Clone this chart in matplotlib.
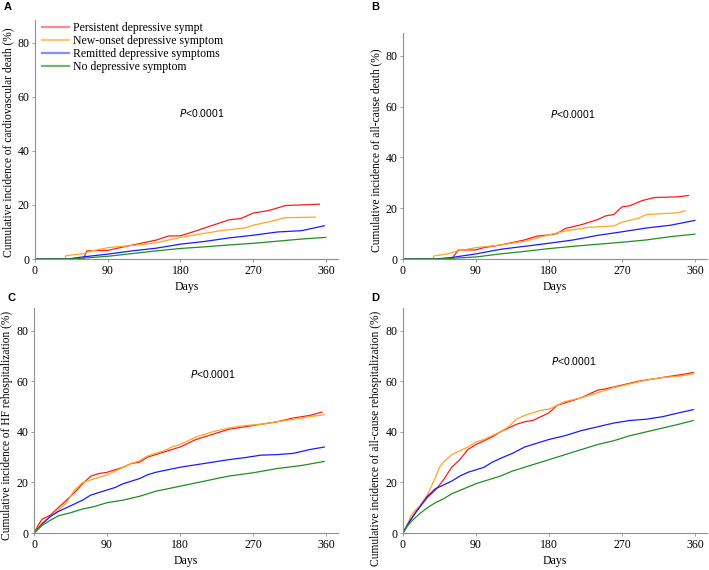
import matplotlib
matplotlib.use('Agg')
import matplotlib.pyplot as plt
from matplotlib.lines import Line2D

plt.rcParams['font.family'] = 'Liberation Serif'

groups = ['Persistent depressive sympt', 'New-onset depressive symptom',
          'Remitted depressive symptoms', 'No depressive symptom']
colors = ['#ff1a1a', '#ffa51f', '#1a1aff', '#1f8f1f']
legend_colors = ['#ff8a8a', '#ffc870', '#8a8aff', '#70b870']

# A: cardiovascular death
a_red_x = [0, 60, 64, 90, 110, 150, 165, 180, 195, 220, 240, 255, 270, 290, 310, 352]
a_red_y = [0, 0, 3, 3.2, 4.5, 7, 8.5, 8.6, 10, 12.5, 14.5, 15, 17, 18, 19.8, 20.3]
a_org_x = [0, 37, 38, 60, 70, 90, 120, 150, 180, 200, 230, 260, 270, 300, 310, 347]
a_org_y = [0, 0, 1.2, 2, 3, 4.2, 5, 6, 8, 9, 10.5, 11.5, 12.5, 14.5, 15.3, 15.5]
a_blu_x = [0, 40, 60, 90, 120, 150, 180, 210, 240, 270, 300, 330, 358]
a_blu_y = [0, 0, 0.8, 1.8, 3, 4, 5.5, 6.5, 7.8, 8.8, 10, 10.5, 12.3]
a_grn_x = [0, 45, 90, 120, 150, 180, 210, 240, 270, 300, 330, 360]
a_grn_y = [0, 0, 1, 2, 3, 3.9, 4.5, 5.2, 5.8, 6.6, 7.4, 8]

# B: all-cause death
b_red_x = [0, 60, 68, 90, 100, 120, 150, 165, 180, 190, 200, 220, 240, 250, 260, 270, 280, 295, 310, 340, 352]
b_red_y = [0, 0, 3.5, 3.6, 4.5, 5.5, 7.5, 9, 9.5, 10, 12, 13.5, 15.5, 17, 17.5, 20.5, 21, 23, 24.2, 24.5, 25]
b_org_x = [0, 37, 38, 55, 65, 90, 120, 150, 180, 200, 230, 260, 270, 290, 300, 340, 348]
b_org_y = [0, 0, 1.2, 2, 3, 4.5, 5.5, 7, 9.5, 11, 12.5, 13, 14.5, 16, 17.5, 18.2, 19]
b_blu_x = [0, 40, 60, 90, 120, 150, 180, 210, 240, 270, 300, 330, 360]
b_blu_y = [0, 0, 0.6, 2, 3.8, 5, 6.2, 7.5, 9.3, 10.7, 12.2, 13.3, 15.2]
b_grn_x = [0, 45, 90, 120, 150, 180, 210, 240, 270, 300, 330, 360]
b_grn_y = [0, 0, 0.8, 2, 3, 4.1, 5, 5.8, 6.6, 7.5, 8.8, 9.8]

# C: HF rehospitalization
c_red_x = [0, 5, 10, 20, 30, 40, 50, 60, 70, 80, 90, 100, 110, 120, 130, 140, 150, 160, 170, 180,
           190, 200, 210, 220, 240, 260, 270, 290, 300, 320, 340, 355]
c_red_y = [0, 3, 5.5, 7, 10, 13, 16, 19.5, 22.5, 23.5, 24, 25, 26, 27.5, 28, 30, 31, 32, 33, 34,
           35.5, 37, 38, 39, 41, 42, 42.5, 43.5, 44, 45.5, 46.5, 47.8]
c_org_x = [0, 10, 20, 30, 40, 50, 60, 70, 80, 90, 100, 110, 120, 130, 140, 150, 160, 170, 180,
           190, 200, 220, 240, 260, 280, 300, 320, 340, 358]
c_org_y = [0, 4, 6.5, 9, 12, 17, 20, 21, 22, 23, 24.5, 26, 27.5, 28.5, 30.5, 31.5, 32.5, 34, 35,
           36.5, 38, 40, 41.5, 42.5, 43, 44, 45, 46, 46.8]
c_blu_x = [0, 10, 20, 30, 40, 50, 60, 70, 80, 90, 100, 110, 120, 130, 140, 150, 165, 180, 200,
           220, 240, 260, 280, 300, 320, 340, 358]
c_blu_y = [0, 3.5, 6.5, 8.5, 10, 11.5, 13, 15, 16, 17, 18, 19.5, 20.5, 21.5, 23, 24, 25, 26, 27,
           28, 29, 29.8, 30.8, 31, 31.5, 33, 34]
c_grn_x = [0, 10, 20, 30, 45, 60, 75, 90, 110, 130, 150, 180, 210, 240, 270, 300, 330, 358]
c_grn_y = [0, 3, 5, 6.8, 8, 9.5, 10.5, 12, 13, 14.5, 16.5, 18.5, 20.5, 22.5, 23.8, 25.5, 26.7, 28.3]

# D: all-cause rehospitalization
d_red_x = [0, 5, 10, 15, 20, 25, 30, 40, 50, 60, 70, 80, 90, 100, 110, 120, 130, 140, 150, 160,
           170, 180, 190, 200, 210, 220, 230, 240, 250, 270, 290, 310, 330, 350, 358]
d_red_y = [0, 3, 5.5, 8, 10, 12, 14, 17, 21, 26, 29, 33, 35, 36.5, 38, 40, 41.5, 43, 44, 44.5,
           46, 47.5, 50.5, 51.5, 52.5, 53.5, 55, 56.5, 57, 58.5, 60, 61, 62, 63, 63.5]
d_org_x = [0, 5, 10, 15, 20, 30, 40, 45, 50, 60, 70, 80, 90, 100, 110, 120, 130, 140, 150, 160,
           170, 180, 190, 200, 220, 240, 260, 280, 300, 320, 340, 358]
d_org_y = [0, 3, 7, 9, 10.5, 15, 22, 26, 28, 31, 32.5, 34, 36, 37, 38.5, 40, 42, 45, 46.5, 47.5,
           48.5, 49, 50.5, 52, 53.5, 55.5, 57.5, 59, 60.5, 61.5, 62, 63]
d_blu_x = [0, 5, 10, 20, 30, 40, 50, 60, 70, 80, 90, 100, 110, 120, 135, 150, 165, 180, 200,
           220, 240, 260, 280, 300, 320, 340, 358]
d_blu_y = [0, 3, 5.5, 10, 14.5, 17.5, 19, 20.5, 22.5, 24, 25, 26, 28, 29.5, 31.5, 34, 35.5, 37,
           38.5, 40.5, 42, 43.5, 44.5, 45, 46, 47.5, 48.8]
d_grn_x = [0, 5, 10, 20, 30, 40, 50, 60, 75, 90, 105, 120, 135, 150, 165, 180, 200, 220, 240,
           260, 280, 300, 320, 340, 358]
d_grn_y = [0, 2.5, 4.5, 7.5, 10, 12, 13.5, 15.5, 17.5, 19.5, 21, 22.5, 24.5, 26, 27.5, 29, 31,
           33, 35, 36.5, 38.5, 40, 41.5, 43, 44.5]

panels = [
    ('A', 'Cumulative incidence of cardiovascular death (%)',
     [(a_red_x, a_red_y), (a_org_x, a_org_y), (a_blu_x, a_blu_y), (a_grn_x, a_grn_y)], (207, 54)),
    ('B', 'Cumulative incidence of all-cause death (%)',
     [(b_red_x, b_red_y), (b_org_x, b_org_y), (b_blu_x, b_blu_y), (b_grn_x, b_grn_y)], (210, 57)),
    ('C', 'Cumulative incidence of HF rehospitalization (%)',
     [(c_red_x, c_red_y), (c_org_x, c_org_y), (c_blu_x, c_blu_y), (c_grn_x, c_grn_y)], (221, 63)),
    ('D', 'Cumulative incidence of all-cause rehospitalization (%)',
     [(d_red_x, d_red_y), (d_org_x, d_org_y), (d_blu_x, d_blu_y), (d_grn_x, d_grn_y)], (211, 68)),
]

W, H = 709, 570
# axes boxes in pixels: left, right, top, bottom
boxes = [(35, 338, 20, 259), (403, 707, 33, 259), (34, 338, 308, 533), (403, 707, 308, 533)]
ylims = [88.5, 89, 89, 89]
letter_pos = [(4, 7), (371, 7), (7, 298), (371, 298)]
# y label centre, in pixels from the top
ylabel_centre = [142, 150, 425, 438]

fig = plt.figure(figsize=(W / 100, H / 100), dpi=100)

for i, (letter, ylabel, series, ptxt) in enumerate(panels):
    l, r, t, b = boxes[i]
    ax = fig.add_axes([l / W, 1 - b / H, (r - l) / W, (b - t) / H])
    for (xs, ys), c in zip(series, colors):
        ax.plot(xs, ys, color=c, lw=0.9)
    ax.set_xlim(0, 375)
    ax.set_ylim(0, ylims[i])
    ax.set_xticks([0, 90, 180, 270, 360])
    ax.set_yticks([0, 20, 40, 60, 80])
    for s in ['top', 'right']:
        ax.spines[s].set_visible(False)
    for s in ['left', 'bottom']:
        ax.spines[s].set_color('#909090')
        ax.spines[s].set_linewidth(0.8)
    ax.tick_params(length=2.5, width=0.6, color='#909090', labelsize=8.5, pad=1.5)
    ax.set_xlabel('Days', fontsize=8.5, labelpad=3)
    ax.set_ylabel(ylabel, fontsize=8.3)
    ax.yaxis.set_label_coords(-21 / (r - l), (b - ylabel_centre[i]) / (b - t))
    ax.text(ptxt[0], ptxt[1], r'$\it{P}$<0.0001', fontsize=7.5, family='Liberation Sans',
            ha='center', va='center')
    fig.text(letter_pos[i][0] / W, 1 - letter_pos[i][1] / H, letter, fontsize=8,
             fontweight='bold', family='Liberation Sans', va='center', ha='left')
    if letter == 'A':
        handles = [Line2D([], [], color=c, lw=1.6) for c in legend_colors]
        ax.legend(handles, groups, loc='upper left', bbox_to_anchor=(0.0, 1.02), frameon=False,
                  fontsize=8.5, handlelength=2.3, handletextpad=0.3, labelspacing=0.08,
                  borderaxespad=0.2)

plt.savefig('out.png', dpi=100)
